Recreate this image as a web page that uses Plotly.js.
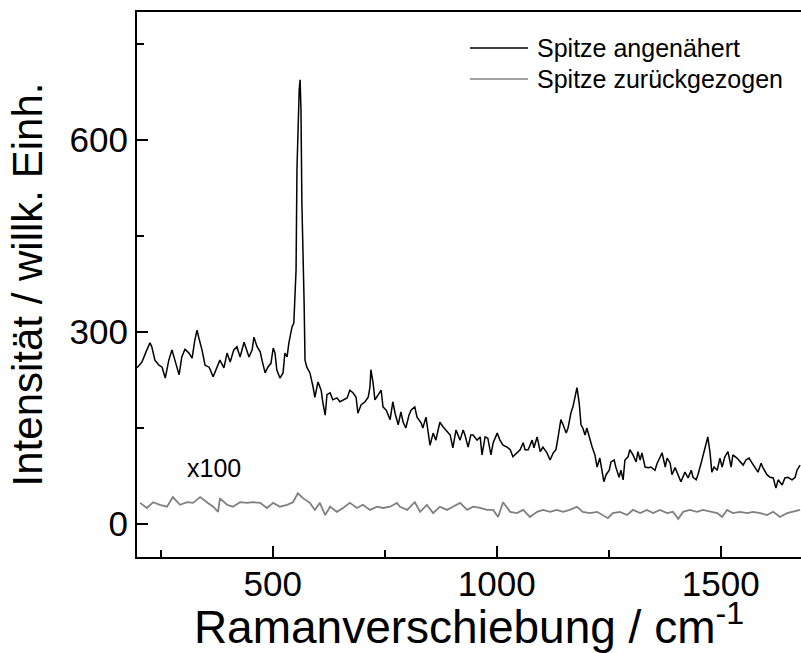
<!DOCTYPE html>
<html>
<head>
<meta charset="utf-8">
<script src="https://cdn.plot.ly/plotly-3.0.1.min.js"></script>
<style>html,body{margin:0;padding:0;background:#fff;}#chart{width:801px;height:653px;}</style>
</head>
<body>
<div id="chart"></div>
<script>
// Raman shift (cm^-1) and intensity, tip approached
var shiftApproached = [
197,208,219,226,230,237,246,253,260,268,275,282,291,297,304,313,320,326,331,335,342,349,358,367,376,382,391,398,405,413,420,427,436,447,454,
458,465,472,476,483,489,496,501,505,509,516,523,527,532,536,543,547,552,554,559,561,563,565,570,572,576,583,590,594,601,608,612,617,621,628,634,643,650,657,666,672,679,686,690,
697,706,713,717,719,724,728,735,742,746,753,762,768,773,780,786,791,797,804,809,817,822,831,835,842,851,858,864,873,880,887,896,902,909,918,925,929,936,942,
947,956,963,967,974,980,987,992,1001,1007,1014,1023,1030,1036,1045,1052,1059,1063,1070,1079,1083,1090,1097,1103,1112,1119,1126,1132,1137,1143,1148,1155,1159,1166,1170,1177,1179,1184,1188,1192,1197,
1201,1208,1213,1219,1224,1230,1235,1239,1244,1251,1255,1262,1266,1273,1277,1282,1286,1293,1297,1304,1311,1315,1320,1324,1331,1338,1344,1353,1358,1364,1369,1376,1380,1387,1391,1398,1405,1411,1420,1427,1434,
1438,1445,1449,1456,1460,1467,1471,1476,1480,1485,1492,1498,1503,1509,1516,1523,1527,1536,1543,1550,1556,1563,1570,1576,1583,1590,1594,1603,1610,1617,1623,1628,1637,1643,1650,1659,1666,1670,1677
];
var intensityApproached = [
244,253,272,283,277,256,248,245,228,256,272,253,233,261,273,267,259,287,303,291,272,248,245,230,244,256,244,267,253,272,277,261,284,261,272,
292,277,269,256,236,245,251,275,267,241,228,236,267,261,283,308,314,397,553,678,694,647,502,345,256,245,236,214,198,222,209,189,170,202,205,194,197,191,194,197,209,205,198,173,
186,191,198,214,241,220,194,202,209,183,178,163,191,173,155,175,159,150,170,178,183,167,158,150,167,123,142,131,159,152,147,139,119,147,131,147,139,120,139,
139,131,136,108,136,134,108,127,142,131,123,120,116,105,111,116,127,116,116,131,119,136,113,120,111,100,111,116,136,163,155,142,150,175,183,205,213,189,155,150,139,
150,131,120,108,89,103,84,66,77,84,97,100,88,73,84,69,100,105,116,108,97,113,100,111,89,88,89,84,95,103,111,89,103,95,77,88,77,66,81,72,84,
73,69,77,95,105,123,136,111,81,89,84,103,89,105,113,89,108,103,97,92,100,103,95,88,81,95,88,77,73,72,56,69,61,72,73,69,73,84,92
];
// tip retracted (scaled x100)
var shiftRetracted = [
204,219,233,248,264,277,293,309,322,338,353,367,378,382,398,411,427,443,456,472,487,501,516,532,545,556,568,583,594,605,617,628,643,657,672,688,701,717,733,746,762,777,
784,800,817,829,844,858,873,889,902,918,934,947,963,978,992,1003,1014,1030,1045,1059,1074,1090,1103,1119,1134,1148,1163,1179,1192,1208,1224,1237,1248,1259,1275,1291,1304,1320,1335,1349,1364,1380,1393,1405,1416,1431,1447,1460,1476,1492,1503,1514,1527,1543,1559,1572,1588,1603,1617,1632,1648,1661,1677
];
var intensityRetracted = [
33,25,34,30,27,42,30,34,33,42,34,27,19,40,30,27,34,33,34,33,25,33,27,30,34,48,40,33,22,33,14,27,19,25,33,25,30,22,27,25,27,33,
27,22,34,19,30,17,27,22,27,33,22,27,25,22,22,11,34,19,17,22,11,19,22,19,22,19,22,27,19,17,19,14,9,17,19,14,22,17,22,17,22,17,19,8,19,22,19,22,19,17,11,22,17,19,17,19,17,14,19,11,17,19,22
];
var seriesNames = ["Spitze angenähert", "Spitze zurückgezogen"];
var seriesColors = ["#000000", "#808080"];
var xTickVals = [500, 1000, 1500];
var yTickVals = [0, 300, 600];

var FONT = "Arial, 'Liberation Sans', sans-serif";

var traces = [
  {x: shiftApproached, y: intensityApproached, type: "scatter", mode: "lines", name: seriesNames[0],
   line: {color: seriesColors[0], width: 1.5}, showlegend: false},
  {x: shiftRetracted, y: intensityRetracted, type: "scatter", mode: "lines", name: seriesNames[1],
   line: {color: seriesColors[1], width: 1.8}, showlegend: false}
];

var legY = [0.934, 0.877];
var shapes = [], annotations = [];
for (var i = 0; i < 2; i++) {
  shapes.push({type: "line", xref: "paper", yref: "paper", x0: 0.5015, x1: 0.5889, y0: legY[i], y1: legY[i],
    line: {color: seriesColors[i], width: 1.6}});
  annotations.push({xref: "paper", yref: "paper", x: 0.5994, y: legY[i], xanchor: "left", yanchor: "middle",
    text: seriesNames[i], showarrow: false, font: {family: FONT, size: 25, color: "#000"}});
}
annotations.push({xref: "x", yref: "y", x: 304, y: 88, xanchor: "left", yanchor: "middle",
  text: "x100", showarrow: false, font: {family: FONT, size: 25, color: "#000"}});

var layout = {
  width: 801, height: 653,
  margin: {l: 137, r: 0, t: 12, b: 96, pad: 0},
  paper_bgcolor: "#fff", plot_bgcolor: "#fff",
  font: {family: FONT, color: "#000"},
  showlegend: false,
  xaxis: {
    range: [197, 1679], showgrid: false, zeroline: false,
    showline: true, linecolor: "#000", linewidth: 2, mirror: true,
    ticks: "inside", ticklen: 11, tickwidth: 2, tickcolor: "#000",
    tickvals: xTickVals, ticktext: xTickVals.map(String),
    tickfont: {family: FONT, size: 35, color: "#000"}, ticklabelstandoff: -5,
    minor: {ticks: "inside", ticklen: 7, tickwidth: 2, tickcolor: "#000", dtick: 250, tick0: 0, showgrid: false},
    title: {text: "Ramanverschiebung / cm<sup>-1</sup>", font: {family: FONT, size: 46, color: "#000"}, standoff: 6}
  },
  yaxis: {
    range: [-51.6, 800], showgrid: false, zeroline: false,
    showline: true, linecolor: "#000", linewidth: 2, mirror: false,
    ticks: "inside", ticklen: 11, tickwidth: 2, tickcolor: "#000",
    tickvals: yTickVals, ticktext: yTickVals.map(String),
    tickfont: {family: FONT, size: 35, color: "#000"},
    minor: {ticks: "inside", ticklen: 7, tickwidth: 2, tickcolor: "#000", dtick: 150, tick0: 0, showgrid: false},
    title: {text: "Intensität / willk. Einh.", font: {family: FONT, size: 42, color: "#000"}, standoff: 14}
  },
  shapes: shapes,
  annotations: annotations
};

Plotly.newPlot("chart", traces, layout, {displayModeBar: false, staticPlot: true});
</script>
</body>
</html>
